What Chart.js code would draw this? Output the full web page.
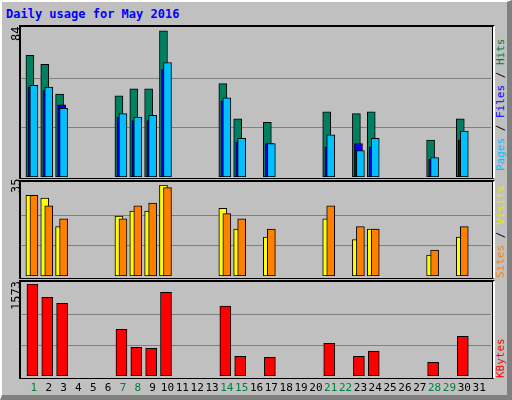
<!DOCTYPE html>
<html><head><meta charset="utf-8">
<script src="https://cdn.jsdelivr.net/npm/chart.js@4"></script>
<style>
body{margin:0;width:512px;height:400px;overflow:hidden;font-family:"DejaVu Sans Mono",monospace}
#bg{position:absolute;left:0;top:0;background:#c0c0c0;border-left:2px solid #fff;border-top:2px solid #fff;border-right:5px solid #808080;border-bottom:5px solid #808080;box-sizing:border-box;width:512px;height:400px}
.frame{position:absolute;border-top:2px solid #000;border-left:2px solid #000;border-bottom:1px solid #000;border-right:2px solid #fff;box-shadow:inset -1px 0 0 #000}
.c{position:absolute}
.lab{position:absolute;transform-origin:0 0;transform:rotate(-90deg);font-size:11px;white-space:nowrap}
#title{position:absolute;left:6px;top:7px;color:#0000ff;font-weight:bold;font-size:12px}
</style></head><body>
<div id="bg"></div>
<div id="title">Daily usage for May 2016</div>
<div class="frame" style="left:19px;top:25px;width:472px;height:151px"></div>
<div class="frame" style="left:19px;top:180px;width:472px;height:96px"></div>
<div class="frame" style="left:19px;top:280px;width:472px;height:96px"></div>
<div class="c" style="left:21px;top:29px;width:470px;height:148px"><canvas id="top"></canvas></div>
<div class="c" style="left:21px;top:185px;width:470px;height:91px"><canvas id="mid"></canvas></div>
<div class="c" style="left:21px;top:284px;width:470px;height:116px"><canvas id="bot"></canvas></div>
<div class="lab" style="left:9px;top:41px;font-size:12px">84</div>
<div class="lab" style="left:9px;top:193px;font-size:12px">35</div>
<div class="lab" style="left:9px;top:310px;font-size:12px">1573</div>
<div class="lab" style="left:494px;top:171px"><span style="color:#00c0ff">Pages</span> / <span style="color:#0000ff">Files</span> / <span style="color:#008040">Hits</span></div>
<div class="lab" style="left:494px;top:278px"><span style="color:#ff8000">Sites</span> / <span style="color:#e8e800">Visits</span></div>
<div class="lab" style="left:494px;top:378px"><span style="color:#ff0000">KBytes</span></div>
<script>
const days = [1, 2, 3, 7, 8, 9, 10, 14, 15, 17, 21, 23, 24, 28, 30];
const hits = [69, 64, 47, 46, 50, 50, 83, 53, 33, 31, 37, 36, 37, 21, 33];
const files = [51, 49, 41, 34, 32, 32, 61, 43, 20, 19, 17, 19, 17, 10, 21];
const pages = [52, 51, 39, 36, 34, 35, 65, 45, 22, 19, 24, 15, 22, 11, 26];
const visits = [31, 30, 19, 23, 25, 25, 35, 26, 18, 15, 22, 14, 18, 8, 15];
const sites = [31, 27, 22, 22, 27, 28, 34, 24, 22, 18, 27, 19, 18, 10, 19];
const kbytes = [1573, 1346, 1243, 798, 491, 474, 1431, 1197, 337, 320, 559, 337, 427, 234, 679];
const weekend = [1, 7, 8, 14, 15, 21, 22, 28, 29];

function pts(vals, off) {
    return days.map((d, i) => ({ x: d + off, y: vals[i] }));
}
function ds(vals, off, color, w) {
    return { data: pts(vals, off), backgroundColor: color, borderColor: "#000", borderWidth: 1, barThickness: w, grouped: false, borderSkipped: false };
}
function opts(max, step, extraBottom) {
    return {
        animation: false, responsive: true, maintainAspectRatio: false,
        layout: { padding: { bottom: extraBottom } },
        plugins: { legend: { display: false }, tooltip: { enabled: false } },
        scales: {
            x: { type: "linear", min: 0.13, max: 31.8, offset: false, display: false },
            y: {
                min: 0, max: max, afterBuildTicks: (s) => { s.ticks = [{ value: step }, { value: step * 2 }]; },
                ticks: { display: false }, border: { display: false },
                grid: { color: "#808080", lineWidth: 1, drawTicks: false }
            }
        }
    };
}
// day labels under the bottom panel
const dayLabels = {
    id: "dayLabels",
    afterDraw(chart) {
        const ctx = chart.ctx, xs = chart.scales.x;
        ctx.save();
        ctx.font = "11px 'DejaVu Sans Mono'";
        ctx.textAlign = "center";
        ctx.textBaseline = "top";
        for (let d = 1; d <= 31; d++) {
            ctx.fillStyle = weekend.includes(d) ? "#008040" : "#000";
            ctx.fillText(String(d), xs.getPixelForValue(d), chart.chartArea.bottom + 7);
        }
        ctx.restore();
    }
};

new Chart(document.getElementById("top"), {
    type: "bar",
    data: { datasets: [ds(pages, 0, "#00c0ff", 8), ds(files, -0.13, "#0000ff", 8), ds(hits, -0.27, "#008060", 8)] },
    options: opts(84, 28, 0)
});
new Chart(document.getElementById("mid"), {
    type: "bar",
    data: { datasets: [ds(sites, 0, "#ff8000", 8), ds(visits, -0.27, "#ffff00", 8)] },
    options: opts(35, 35 / 3, 0)
});
new Chart(document.getElementById("bot"), {
    type: "bar",
    data: { datasets: [ds(kbytes, -0.1, "#ff0000", 11)] },
    options: opts(1573, 1573 / 3, 24),
    plugins: [dayLabels]
});
</script>
</body></html>
